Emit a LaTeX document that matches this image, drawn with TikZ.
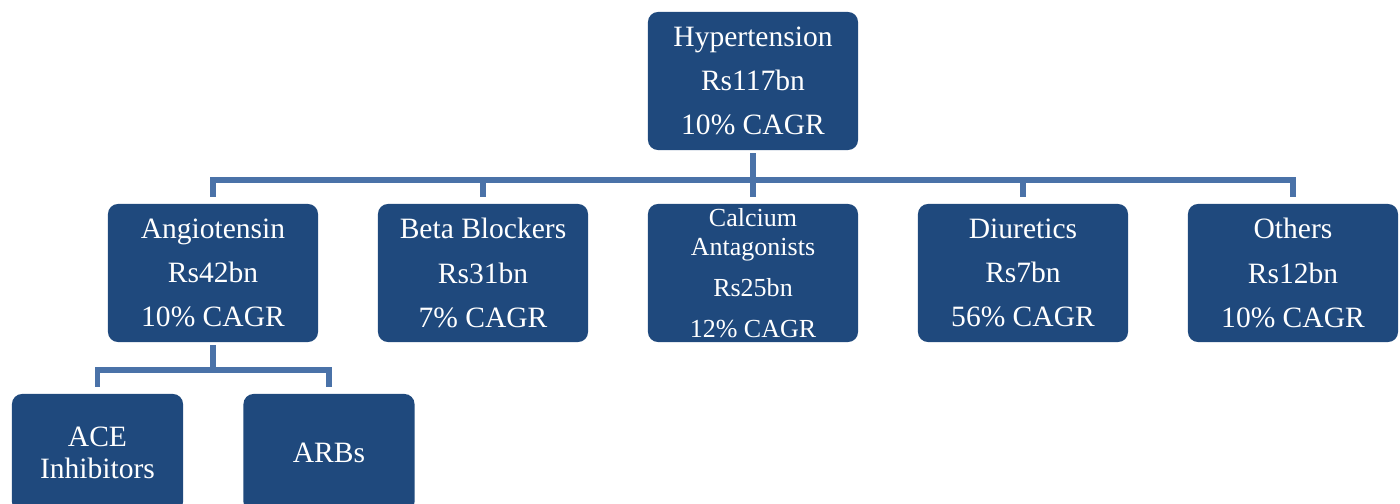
\documentclass[tikz,border=0pt]{standalone}
\usepackage{fontspec}
\setmainfont{Liberation Serif}
\usepackage{tikz}

\definecolor{boxblue}{RGB}{31,73,125}
\definecolor{linkblue}{RGB}{74,114,168}

\tikzset{
  box/.style={fill=boxblue, rounded corners=0.25cm, text=white, align=center,
    minimum width=5.25cm, minimum height=3.45cm, inner sep=0pt,
    font=\fontsize{21}{31.5}\selectfont},
  subbox/.style={box, minimum width=4.275cm, minimum height=2.95cm,
    font=\fontsize{21}{22.7}\selectfont},
  link/.style={draw=linkblue, line width=4pt, shorten <=2pt, shorten >=5pt}
}

\begin{document}
\begin{tikzpicture}[x=0.025cm, y=-0.025cm]
    \useasboundingbox (0,0) rectangle (1400,504);

    \node[box] (hyper) at (753,81) {Hypertension\\Rs117bn\\10\% CAGR};

    \node[box] (angio) at (213,273) {Angiotensin\\Rs42bn\\10\% CAGR};
    \node[box] (beta) at (483,273) {Beta Blockers\\Rs31bn\\7\% CAGR};
    \node[box, font=\fontsize{18.5}{20.5}\selectfont] (calc) at (753,273)
        {Calcium\\Antagonists\\[9pt]Rs25bn\\[8pt]12\% CAGR};
    \node[box] (diur) at (1023,273) {Diuretics\\Rs7bn\\56\% CAGR};
    \node[box] (other) at (1293,273) {Others\\Rs12bn\\10\% CAGR};

    \node[subbox] (ace) at (97.5,453) {ACE\\Inhibitors};
    \node[subbox] (arb) at (329,453) {ARBs};

    \foreach \child in {angio,beta,calc,diur,other}
        \draw[link] (hyper.south) -- ++(0,30) -| (\child.north);

    \foreach \child in {ace,arb}
        \draw[link] (angio.south) -- ++(0,28) -| (\child.north);

\end{tikzpicture}
\end{document}
